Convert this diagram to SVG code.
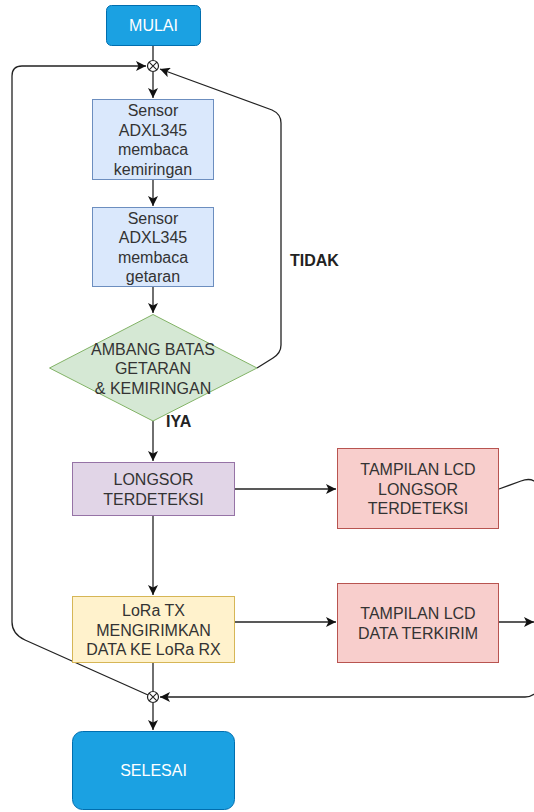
<svg xmlns="http://www.w3.org/2000/svg" width="534" height="812" viewBox="0 0 534 812">
<defs>
<marker id="arr" markerUnits="userSpaceOnUse" markerWidth="11" markerHeight="10" refX="10" refY="5" orient="auto">
<path d="M0,0 L10,5 L0,10 L2.5,5 z" fill="#111"/>
</marker>
<style>
.t{font-family:"Liberation Sans",Arial,sans-serif;font-size:16px;fill:#333;text-anchor:middle}
.w{fill:#fff}
.b{font-weight:bold;fill:#222;text-anchor:start}
.c{fill:none;stroke:#222;stroke-width:1.3}
.j{fill:#fff;stroke:#222;stroke-width:1.2}
</style>
</defs>
<rect width="534" height="812" fill="#fff"/>
<g id="connectors">
<path class="c" d="M153,46 L153,60"/>
<path class="c" d="M153,72 L153,98" marker-end="url(#arr)"/>
<path class="c" d="M153,180 L153,206" marker-end="url(#arr)"/>
<path class="c" d="M153,287 L153,313" marker-end="url(#arr)"/>
<path class="c" d="M257,368 L273,358 Q281,353 281,345 L281,123 Q281,114 272,110 L160,69" marker-end="url(#arr)"/>
<path class="c" d="M153,421 L153,461" marker-end="url(#arr)"/>
<path class="c" d="M234,489 L336,489" marker-end="url(#arr)"/>
<path class="c" d="M153,516 L153,595" marker-end="url(#arr)"/>
<path class="c" d="M499,489 L521,481 Q529,478 534,481 L540,486"/>
<path class="c" d="M234,622 L336,622" marker-end="url(#arr)"/>
<path class="c" d="M499,622 L534,622" marker-end="url(#arr)"/>
<path class="c" d="M540,688 Q534,697 525,697 L160,697" marker-end="url(#arr)"/>
<path class="c" d="M153,663 L153,691"/>
<path class="c" d="M153,703 L153,730" marker-end="url(#arr)"/>
<path class="c" d="M148,695 L25,640 Q12,634 12,622 L12,76 Q12,66 22,66 L146,66" marker-end="url(#arr)"/>
<text class="t b" x="290" y="266">TIDAK</text>
<text class="t b" x="166" y="427">IYA</text>
</g>
<g id="j1">
<circle class="j" cx="153" cy="66" r="5.5"/>
<path d="M149.1,62.1 L156.9,69.9 M156.9,62.1 L149.1,69.9" stroke="#222" stroke-width="1.1"/>
</g>
<g id="j2">
<circle class="j" cx="153" cy="697" r="5.5"/>
<path d="M149.1,693.1 L156.9,700.9 M156.9,693.1 L149.1,700.9" stroke="#222" stroke-width="1.1"/>
</g>
<g id="mulai">
<rect x="106.5" y="5.5" width="94" height="40" rx="5" fill="#1ba1e2" stroke="#006eaf"/>
<text class="t w" x="153.5" y="31">MULAI</text>
</g>
<g id="sensor1">
<rect x="92.5" y="99.5" width="121" height="80" fill="#dae8fc" stroke="#6c8ebf"/>
<text class="t" x="153" y="116">Sensor</text>
<text class="t" x="153" y="135.5">ADXL345</text>
<text class="t" x="153" y="155">membaca</text>
<text class="t" x="153" y="174.5">kemiringan</text>
</g>
<g id="sensor2">
<rect x="92.5" y="207.5" width="121" height="79" fill="#dae8fc" stroke="#6c8ebf"/>
<text class="t" x="153" y="223.5">Sensor</text>
<text class="t" x="153" y="243">ADXL345</text>
<text class="t" x="153" y="262.5">membaca</text>
<text class="t" x="153" y="282">getaran</text>
</g>
<g id="ambang">
<path d="M153,314.5 L257,368 L153,421 L49.5,368 z" fill="#d5e8d4" stroke="#82b366"/>
<text class="t" x="153" y="354.5">AMBANG BATAS</text>
<text class="t" x="153" y="374">GETARAN</text>
<text class="t" x="153" y="393.5">&amp; KEMIRINGAN</text>
</g>
<g id="longsor">
<rect x="72.5" y="462.5" width="162" height="53" fill="#e1d5e7" stroke="#9673a6"/>
<text class="t" x="153.5" y="485">LONGSOR</text>
<text class="t" x="153.5" y="504.5">TERDETEKSI</text>
</g>
<g id="lcd1">
<rect x="337.5" y="448.5" width="161" height="80" fill="#f8cecc" stroke="#b85450"/>
<text class="t" x="418" y="475">TAMPILAN LCD</text>
<text class="t" x="418" y="494.5">LONGSOR</text>
<text class="t" x="418" y="514">TERDETEKSI</text>
</g>
<g id="lora">
<rect x="72.5" y="596.5" width="162" height="66" fill="#fff2cc" stroke="#d6b656"/>
<text class="t" x="153.5" y="616">LoRa TX</text>
<text class="t" x="153.5" y="635.5">MENGIRIMKAN</text>
<text class="t" x="153.5" y="655">DATA KE LoRa RX</text>
</g>
<g id="lcd2">
<rect x="337.5" y="583.5" width="161" height="79" fill="#f8cecc" stroke="#b85450"/>
<text class="t" x="418" y="619">TAMPILAN LCD</text>
<text class="t" x="418" y="638.5">DATA TERKIRIM</text>
</g>
<g id="selesai">
<rect x="72.5" y="731.5" width="162" height="78" rx="10" fill="#1ba1e2" stroke="#006eaf"/>
<text class="t w" x="153.5" y="776">SELESAI</text>
</g>
</svg>
